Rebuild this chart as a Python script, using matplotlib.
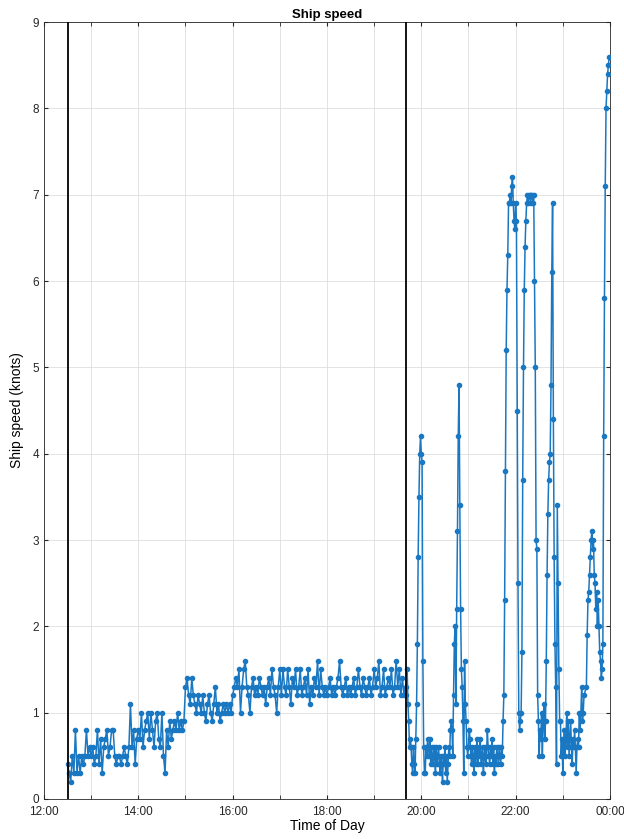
import numpy as np
import matplotlib
matplotlib.use('Agg')
import matplotlib.pyplot as plt

plt.rcParams['font.family'] = ['Liberation Sans', 'DejaVu Sans']

# calm part, one sample every 2 min from 12:30
calm_start = "12:30"
calm_step = 2
calm_speed = [
    0.4, 0.3, 0.2, 0.5, 0.3, 0.8, 0.3, 0.5, 0.3, 0.5, 0.4, 0.5, 0.8, 0.5, 0.6,
    0.5, 0.6, 0.4, 0.5, 0.8, 0.4, 0.7, 0.3, 0.6, 0.7, 0.8, 0.5, 0.6, 0.8, 0.8,
    0.5, 0.4, 0.5, 0.5, 0.4, 0.5, 0.6, 0.5, 0.4, 0.6, 1.1, 0.6, 0.8, 0.4, 0.7,
    0.8, 0.7, 1.0, 0.6, 0.8, 0.9, 1.0, 0.7, 1.0, 0.8, 0.6, 0.9, 1.0, 0.7, 0.6,
    1.0, 0.5, 0.3, 0.8, 0.6, 0.9, 0.7, 0.8, 0.9, 0.8, 1.0, 0.8, 0.9, 0.8, 0.9,
    1.3, 1.4, 1.2, 1.1, 1.4, 1.2, 1.1, 1.0, 1.2, 1.1, 1.0, 1.2, 1.0, 0.9, 1.1,
    1.2, 1.0, 0.9, 1.1, 1.3, 1.0, 1.1, 0.9, 1.0, 1.1, 1.0, 1.1, 1.0, 1.1, 1.0,
    1.2, 1.3, 1.4, 1.3, 1.5, 1.0, 1.3, 1.5, 1.6, 1.3, 1.2, 1.0, 1.3, 1.4, 1.2,
    1.3, 1.2, 1.4, 1.3, 1.2, 1.3, 1.1, 1.3, 1.4, 1.2, 1.5, 1.3, 1.2, 1.0, 1.3,
    1.5, 1.2, 1.5, 1.3, 1.2, 1.5, 1.3, 1.1, 1.4, 1.3, 1.5, 1.2, 1.3, 1.5, 1.2,
    1.3, 1.4, 1.2, 1.5, 1.1, 1.3, 1.2, 1.4, 1.3, 1.6, 1.2, 1.5, 1.3, 1.2, 1.3,
    1.2, 1.3, 1.4, 1.2, 1.3, 1.2, 1.3, 1.4, 1.6, 1.3, 1.2, 1.3, 1.4, 1.2, 1.3,
    1.2, 1.3, 1.4, 1.2, 1.3, 1.5, 1.3, 1.2, 1.4, 1.3, 1.2, 1.3, 1.4, 1.2, 1.3,
    1.5, 1.3, 1.4, 1.6, 1.2, 1.3, 1.5, 1.2, 1.3, 1.4, 1.3, 1.5, 1.2, 1.3, 1.6,
    1.3, 1.5, 1.2, 1.4, 1.2,
]

# active part, one sample per minute, in pieces
seg_1940 = [
    1.3, 1.2, 1.5, 1.1, 0.9, 0.6, 0.7, 0.6, 0.4, 0.3,
    0.6, 0.4, 0.3, 0.7, 1.1, 1.8, 2.8, 3.5, 4.0, 4.2,
    4.0, 3.9, 1.6, 0.6, 0.3, 0.3, 0.6, 0.5, 0.7, 0.6,
]
seg_2010 = [
    0.5, 0.7, 0.4, 0.6, 0.5, 0.4, 0.6, 0.5, 0.3, 0.6,
    0.4, 0.5, 0.6, 0.4, 0.3, 0.5, 0.4, 0.2, 0.5, 0.4,
    0.6, 0.3, 0.5, 0.2, 0.4, 0.6, 0.5, 0.8, 0.9, 0.8,
    0.5, 1.2, 1.8, 2.0, 1.1, 2.2, 3.1, 4.2, 4.8, 3.4,
    2.2, 1.5, 1.3, 0.9, 0.3, 1.6, 1.1, 0.9, 0.6, 0.5,
]
seg_2100 = [
    0.6, 0.8, 0.7, 0.5, 0.4, 0.6, 0.5, 0.3, 0.6, 0.4,
    0.5, 0.7, 0.4, 0.6, 0.5, 0.7, 0.4, 0.5, 0.6, 0.3,
    0.5, 0.6, 0.4, 0.5, 0.8, 0.6, 0.5, 0.4, 0.6, 0.5,
    0.7, 0.4, 0.6, 0.3, 0.5, 0.4, 0.6, 0.5, 0.4, 0.6,
    0.5, 0.4, 0.6, 0.5, 0.9,
]
seg_2145 = [
    1.2, 2.3, 3.8, 5.2, 5.9, 6.3, 6.9, 6.9, 7.0, 6.9,
    7.1, 7.2, 6.9, 6.7, 6.6, 6.9, 6.7, 4.5, 2.5, 1.0,
    0.8, 0.9, 1.0, 1.7, 3.7, 5.0, 5.9, 6.4, 6.7, 6.9,
    7.0, 6.9, 7.0, 7.0, 6.9, 7.0, 7.0, 6.9, 7.0, 6.0,
    5.0, 3.0, 2.9, 1.2, 0.9, 0.5, 0.8, 0.7, 1.0, 0.5,
    0.9, 1.1, 0.7, 0.9, 1.6, 2.6, 3.3, 3.7, 3.9, 4.0,
    4.8, 6.1, 6.9, 4.4, 2.8, 1.8, 1.3, 0.4, 3.4, 2.5,
    1.5, 0.9, 0.9,
]
seg_2258 = [
    0.5, 0.7, 0.3, 0.6, 0.8, 0.5, 0.7, 1.0, 0.6, 0.9,
    0.5, 0.7, 0.9, 0.6, 0.4, 0.7, 0.6, 0.8, 0.6, 0.3,
    0.6, 0.7, 0.6, 1.0, 0.8, 1.0, 1.3, 0.9, 1.0, 1.2,
]
seg_2330 = [
    1.3, 1.9, 2.3, 2.4, 2.6, 2.8, 3.0, 3.1, 2.9, 3.0,
    2.6, 2.5, 2.2, 2.4, 2.0, 2.3, 2.0, 1.7, 1.6, 1.4,
    1.5, 1.8, 4.2, 5.8, 7.1, 8.0, 8.2, 8.4, 8.5, 8.6,
]
segments = [
    (calm_start, calm_step, calm_speed),
    ("19:40", 1, seg_1940),
    ("20:10", 1, seg_2010),
    ("21:00", 1, seg_2100),
    ("21:45", 1, seg_2145),
    ("22:58", 1, seg_2258),
    ("23:30", 1, seg_2330),
]
event_times = ["12:30", "19:41"]

xtick_hours = [12, 14, 16, 18, 20, 22, 24]
xtick_labels = ["12:00", "14:00", "16:00", "18:00", "20:00", "22:00", "00:00"]


def to_hours(s):
    h, m = s.split(":")
    return int(h) + int(m) / 60.0


t = []
v = []
for start, step, vals in segments:
    t0 = to_hours(start)
    t += [t0 + i * step / 60.0 for i in range(len(vals))]
    v += vals

fig = plt.figure(figsize=(6.24, 8.39), dpi=100)
ax = fig.add_axes([0.0705, 0.0477, 0.907, 0.926])

ax.plot(t, v, color='#1a78c2', lw=1.1, marker='.', ms=6, zorder=3)
for e in event_times:
    ax.axvline(to_hours(e), color='black', lw=1.3, zorder=4)

ax.set_xlim(12, 24)
ax.set_ylim(0, 9)
ax.set_xticks(xtick_hours)
ax.set_xticklabels(xtick_labels)
ax.set_xticks(np.arange(13, 24, 2), minor=True)
ax.set_yticks(range(0, 10))
ax.grid(True, which='both', color='#dedede', lw=0.6)
ax.set_axisbelow(True)
ax.tick_params(which='both', direction='in', labelsize=8.5, colors='#262626',
               top=True, right=True, length=3)
ax.tick_params(axis='x', pad=5)
for sp in ax.spines.values():
    sp.set_color('#262626')
    sp.set_linewidth(0.6)

ax.set_title("Ship speed", fontsize=9.5, fontweight='bold', pad=3)
ax.set_xlabel("Time of Day", fontsize=10, labelpad=1)
ax.set_ylabel("Ship speed (knots)", fontsize=10, labelpad=6)

fig.savefig('out.png', dpi=100)
